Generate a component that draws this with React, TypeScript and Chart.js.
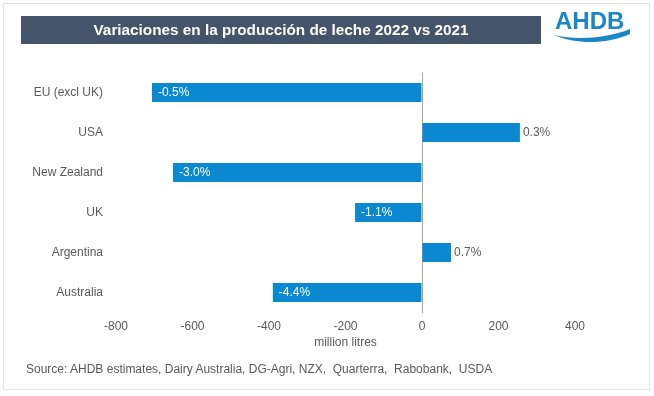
import React, { useEffect, useRef } from "react";
import { Chart, registerables } from "chart.js";

Chart.register(...registerables);

const categories = ["EU (excl UK)", "USA", "New Zealand", "UK", "Argentina", "Australia"];
const values = [-706, 256, -651, -175, 76, -390];
const pctLabels = ["-0.5%", "0.3%", "-3.0%", "-1.1%", "0.7%", "-4.4%"];
const xMin = -800;
const xMax = 400;
const xStep = 200;
const titleText = "Variaciones en la producción de leche 2022 vs 2021";
const axisTitle = "million litres";
const sourceText = "Source: AHDB estimates, Dairy Australia, DG-Agri, NZX,  Quarterra,  Rabobank,  USDA";

const FONT = "'Liberation Sans', Arial, sans-serif";
const GREY = "#595959";
const BLUE = "#0a89d0";

const labelPlugin = {
  id: "pctLabels",
  afterDatasetsDraw(chart: any) {
    const ctx = chart.ctx;
    const meta = chart.getDatasetMeta(0);
    ctx.save();
    ctx.font = `12px ${FONT}`;
    ctx.textBaseline = "middle";
    ctx.textAlign = "left";
    meta.data.forEach((el: any, i: number) => {
      const v = values[i];
      const txt = pctLabels[i];
      if (v < 0) {
        ctx.fillStyle = "#ffffff";
        ctx.fillText(txt, el.x + 6, el.y);
      } else {
        ctx.fillStyle = GREY;
        ctx.fillText(txt, el.x + 3, el.y);
      }
    });
    ctx.restore();
  },
};

function BarChart() {
  const ref = useRef<HTMLCanvasElement | null>(null);
  useEffect(() => {
    if (!ref.current) return;
    const chart = new Chart(ref.current, {
      type: "bar",
      data: {
        labels: categories,
        datasets: [
          {
            data: values,
            backgroundColor: BLUE,
            borderWidth: 0,
            barPercentage: 0.475,
            categoryPercentage: 1,
          },
        ],
      },
      options: {
        indexAxis: "y",
        animation: false,
        responsive: false,
        maintainAspectRatio: false,
        layout: { padding: { top: 72.5, right: 79, bottom: 0, left: 0 } },
        plugins: { legend: { display: false }, tooltip: { enabled: false } },
        scales: {
          x: {
            min: xMin,
            max: xMax,
            border: { display: false },
            grid: {
              drawTicks: false,
              color: (c: any) => (c.tick && c.tick.value === 0 ? "#a6a6a6" : "rgba(0,0,0,0)"),
              lineWidth: 1,
            },
            ticks: {
              stepSize: xStep,
              padding: 7,
              color: GREY,
              font: { family: FONT, size: 12 },
            },
            title: {
              display: true,
              text: axisTitle,
              color: GREY,
              font: { family: FONT, size: 12 },
              padding: { top: 0, bottom: 45.8 },
            },
            afterFit: (s: any) => {
              s.height = 83.5;
            },
          },
          y: {
            border: { display: false },
            grid: { display: false, drawTicks: false },
            ticks: {
              padding: 13,
              color: GREY,
              font: { family: FONT, size: 12 },
            },
            afterFit: (s: any) => {
              s.width = 116;
            },
          },
        },
      },
      plugins: [labelPlugin],
    });
    return () => chart.destroy();
  }, []);
  return <canvas ref={ref} width={654} height={396} style={{ position: "absolute", left: 0, top: 0, width: 654, height: 396 }} />;
}

export default function App() {
  return (
    <div style={{ position: "absolute", left: 0, top: 0, width: 654, height: 396, background: "#ffffff", overflow: "hidden", fontFamily: FONT }}>
      <BarChart />
      <div style={{ position: "absolute", left: 3, top: 3, width: 647, height: 387, border: "1px solid #e3e3e3", boxSizing: "border-box", pointerEvents: "none" }} />
      <div style={{ position: "absolute", left: 21, top: 16, width: 520, height: 28, background: "#44546a", color: "#ffffff", fontWeight: "bold", fontSize: 15.3, lineHeight: "28px", textAlign: "center", whiteSpace: "nowrap" }}>
        {titleText}
      </div>
      <div style={{ position: "absolute", left: 555, top: 7, fontSize: 24, lineHeight: "28px", color: "#1b86c8", fontFamily: FONT, fontWeight: "bold", letterSpacing: 0 }}>
        AHDB
      </div>
      <svg style={{ position: "absolute", left: 550, top: 27 }} width={85} height={20} viewBox="0 0 85 20">
        <path d="M4,8 C25,13 55,12 80,2 L80,7 C55,18 25,17 4,8 Z" fill="#1b86c8" />
      </svg>
      <div style={{ position: "absolute", left: 26, top: 361, fontSize: 12, lineHeight: "16px", color: GREY, whiteSpace: "pre" }}>
        {sourceText}
      </div>
    </div>
  );
}
